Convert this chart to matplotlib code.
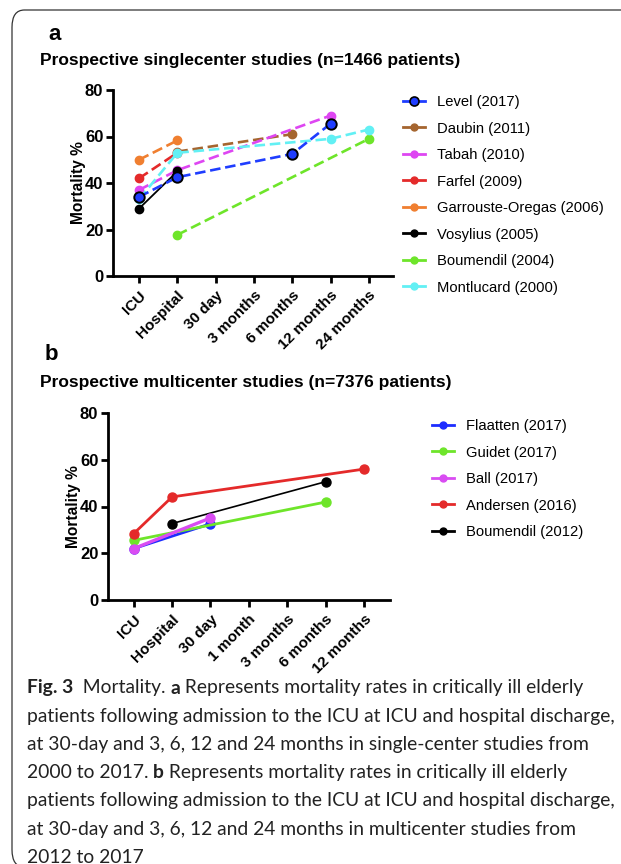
import matplotlib.pyplot as plt
import numpy as np
from matplotlib.lines import Line2D
from matplotlib.patches import FancyBboxPatch

# panel a: single-center studies
cats_a = ["ICU", "Hospital", "30 day", "3 months", "6 months", "12 months", "24 months"]
studies_a = ["Level (2017)", "Daubin (2011)", "Tabah (2010)", "Farfel (2009)",
             "Garrouste-Oregas (2006)", "Vosylius (2005)", "Boumendil (2004)", "Montlucard (2000)"]
level_x = ["ICU", "Hospital", "6 months", "12 months"]
level_y = [34, 42.5, 52.5, 65.5]
daubin_x = ["Hospital", "6 months"]
daubin_y = [53.5, 61]
tabah_x = ["ICU", "Hospital", "12 months"]
tabah_y = [37, 45.5, 69]
farfel_x = ["ICU", "Hospital"]
farfel_y = [42, 53]
garrouste_x = ["ICU", "Hospital"]
garrouste_y = [50, 58.3]
vosylius_x = ["ICU", "Hospital"]
vosylius_y = [29, 45]
boumendil04_x = ["Hospital", "24 months"]
boumendil04_y = [17.7, 59]
montlucard_x = ["ICU", "Hospital", "12 months", "24 months"]
montlucard_y = [33, 53, 59, 63]

# panel b: multicenter studies
cats_b = ["ICU", "Hospital", "30 day", "1 month", "3 months", "6 months", "12 months"]
studies_b = ["Flaatten (2017)", "Guidet (2017)", "Ball (2017)", "Andersen (2016)", "Boumendil (2012)"]
flaatten_x = ["ICU", "30 day"]
flaatten_y = [22, 32.6]
guidet_x = ["ICU", "6 months"]
guidet_y = [25.5, 41.9]
ball_x = ["ICU", "30 day"]
ball_y = [22, 35.1]
andersen_x = ["ICU", "Hospital", "12 months"]
andersen_y = [28.4, 44.1, 56]
boumendil12_x = ["Hospital", "6 months"]
boumendil12_y = [32.7, 50.6]

W, H = 621, 864
plt.rcParams['font.family'] = ['Liberation Sans', 'DejaVu Sans']
fig = plt.figure(figsize=(W / 100, H / 100), dpi=100)

# rounded frame around the figure
fig.patches.append(FancyBboxPatch((12 / W, -3 / H), 1.2, (H - 7) / H,
                                  boxstyle="round,pad=0,rounding_size=0.02",
                                  transform=fig.transFigure, fill=False,
                                  edgecolor="#333333", linewidth=0.9, zorder=0))


def style_axes(ax, cats, xlim):
    ax.set_xlim(*xlim)
    ax.set_ylim(0, 80)
    ax.set_yticks([0, 20, 40, 60, 80])
    ax.set_xticks(range(len(cats)))
    ax.set_xticklabels(cats, rotation=45, ha="right", va="top", rotation_mode="anchor",
                       fontweight="bold", fontsize=11)
    for lab in ax.get_yticklabels():
        lab.set_fontweight("bold")
        lab.set_fontsize(12)
    for s in ["top", "right"]:
        ax.spines[s].set_visible(False)
    for s in ["left", "bottom"]:
        ax.spines[s].set_linewidth(2.0)
    ax.tick_params(axis="both", width=2.0, length=5, pad=2)
    ax.tick_params(axis="x", pad=4)
    ax.set_ylabel("Mortality %", fontweight="bold", fontsize=11.2, labelpad=-1)


# ---------- panel a ----------
axa = fig.add_axes([113 / W, 1 - 276 / H, (393 - 113) / W, (276 - 90) / H])
series_a = [
    (level_x, level_y, "#1f3dff", "--", "k"),
    (daubin_x, daubin_y, "#a5652f", "--", None),
    (tabah_x, tabah_y, "#de46f2", "--", None),
    (farfel_x, farfel_y, "#e42a2a", "--", None),
    (garrouste_x, garrouste_y, "#f07f30", "--", None),
    (vosylius_x, vosylius_y, "black", "-", None),
    (boumendil04_x, boumendil04_y, "#6ee52a", "--", None),
    (montlucard_x, montlucard_y, "#62f0f4", "--", None),
]
for i in reversed(range(len(series_a))):
    xs, ys, col, ls, edge = series_a[i]
    xi = [cats_a.index(c) for c in xs]
    if edge:
        axa.plot(xi, ys, "--", color=col, lw=1.9, marker="o", ms=7.5,
                 mec="black", mew=1.4, dashes=(4, 1.8), zorder=10, clip_on=False)
    elif ls == "-":
        axa.plot(xi, ys, "-", color=col, lw=1.3, marker="o", ms=6, mec=col,
                 zorder=3 + i, clip_on=False)
    else:
        axa.plot(xi, ys, "--", color=col, lw=1.9, marker="o", ms=6, mec=col,
                 dashes=(4, 1.8), zorder=3 + i, clip_on=False)
handles_a = []
for xs, ys, col, ls, edge in series_a:
    handles_a.append(Line2D([], [], color=col, lw=2.0, marker="o",
                            ms=6.5 if edge else 5, mec=edge if edge else col,
                            mew=1.2 if edge else 1))
style_axes(axa, cats_a, (-0.68, 6.63))
axa.legend(handles_a, studies_a, loc="upper left", bbox_to_anchor=(403 / W, 1 - 95 / H),
           bbox_transform=fig.transFigure, frameon=False, fontsize=10.6,
           handlelength=1.5, handletextpad=0.8, labelspacing=0.85, borderaxespad=0,
           borderpad=0)

fig.text(48 / W, 1 - 35 / H, "a", fontsize=16, fontweight="bold", va="center", ha="left")
fig.text(40 / W, 1 - 60 / H, "Prospective singlecenter studies (n=1466 patients)",
         fontsize=12.5, fontweight="bold", va="center", ha="left")

# ---------- panel b ----------
axb = fig.add_axes([108 / W, 1 - 600 / H, (390 - 108) / W, (600 - 413) / H])
series_b = [
    (flaatten_x, flaatten_y, "#1d2dff", 2.0),
    (guidet_x, guidet_y, "#6ee52a", 2.0),
    (ball_x, ball_y, "#d94cf2", 2.4),
    (andersen_x, andersen_y, "#e42a2a", 2.0),
    (boumendil12_x, boumendil12_y, "black", 1.2),
]
order_b = [0, 1, 4, 3, 2]
for i in order_b:
    xs, ys, col, lw = series_b[i]
    xi = [cats_b.index(c) for c in xs]
    axb.plot(xi, ys, "-", color=col, lw=lw, marker="o", ms=6.5, mec=col,
             zorder=3 + order_b.index(i), clip_on=False)
handles_b = [Line2D([], [], color=c, lw=2.0, marker="o", ms=5, mec=c)
             for _, _, c, _ in series_b]
style_axes(axb, cats_b, (-0.67, 6.68))
axb.legend(handles_b, studies_b, loc="upper left", bbox_to_anchor=(432 / W, 1 - 419 / H),
           bbox_transform=fig.transFigure, frameon=False, fontsize=10.6,
           handlelength=1.5, handletextpad=0.8, labelspacing=0.85, borderaxespad=0,
           borderpad=0)

fig.text(45 / W, 1 - 355 / H, "b", fontsize=16, fontweight="bold", va="center", ha="left")
fig.text(40 / W, 1 - 382 / H, "Prospective multicenter studies (n=7376 patients)",
         fontsize=12.5, fontweight="bold", va="center", ha="left")

# ---------- caption ----------
caption = [
    [("Fig. 3", "bold"), ("  Mortality. ", "normal"), ("a", "bold"),
     (" Represents mortality rates in critically ill elderly", "normal")],
    [("patients following admission to the ICU at ICU and hospital discharge,", "normal")],
    [("at 30-day and 3, 6, 12 and 24 months in single-center studies from", "normal")],
    [("2000 to 2017. ", "normal"), ("b", "bold"),
     (" Represents mortality rates in critically ill elderly", "normal")],
    [("patients following admission to the ICU at ICU and hospital discharge,", "normal")],
    [("at 30-day and 3, 6, 12 and 24 months in multicenter studies from", "normal")],
    [("2012 to 2017", "normal")],
]
cap_font = ["Lato", "DejaVu Sans"]
renderer = fig.canvas.get_renderer()
probe = fig.text(0, 0, caption[1][0][0], fontsize=10, family=cap_font)
w10 = probe.get_window_extent(renderer).width
probe.remove()
cap_size = 10 * 588 / w10
y0, dy = 688, 28.2
for k, line in enumerate(caption):
    x = 27
    y = 1 - (y0 + k * dy) / H
    for txt, wt in line:
        t = fig.text(x / W, y, txt, fontsize=cap_size, fontweight=wt, family=cap_font,
                     va="center", ha="left", color="#222222")
        x += t.get_window_extent(renderer).width

fig.savefig("out.png", dpi=100)
